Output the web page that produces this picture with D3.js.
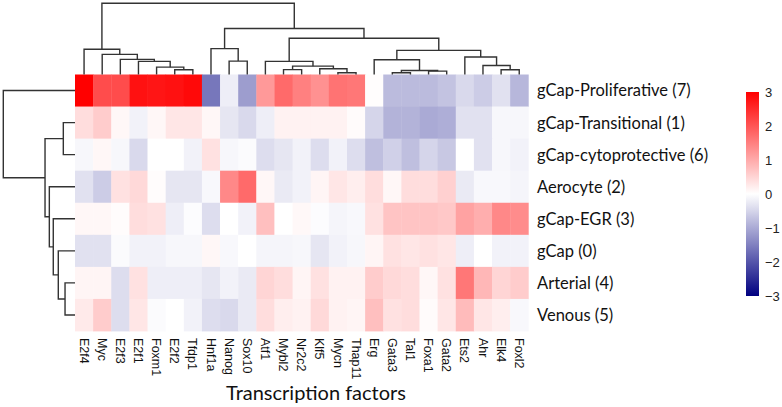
<!DOCTYPE html>
<html>
<head>
<meta charset="utf-8">
<script src="https://cdn.jsdelivr.net/npm/d3@7"></script>
<style>
  body { margin: 0; background: #fff; }
  svg { display: block; }
</style>
</head>
<body>
<div id="chart"></div>
<script>
const width = 782;
const height = 407;

// column and row order (leaf order of the dendrograms)
const factors = ["E2f4", "Myc", "E2f3", "E2f1", "Foxm1", "E2f2", "Tfdp1", "Hnf1a", "Nanog", "Sox10",
	"Atf1", "Mybl2", "Nr2c2", "Klf5", "Mycn", "Thap11", "Erg", "Gata3", "Tal1", "Foxa1",
	"Gata2", "Ets2", "Ahr", "Elk4", "Foxl2"];
const clusters = ["gCap-Proliferative (7)", "gCap-Transitional (1)", "gCap-cytoprotective (6)",
	"Aerocyte (2)", "gCap-EGR (3)", "gCap (0)", "Arterial (4)", "Venous (5)"];

// scaled activity, one array per cluster (same order as factors)
const values = [
	[3.0, 2.1, 2.1, 2.8, 2.75, 2.8, 2.9, -1.6, -0.2, -1.15, 1.2, 1.75, 1.5, 1.3, 1.65, 1.6, 0.02, -0.8, -0.8, -0.8, -0.7, -0.45, -0.6, -0.35, -0.85],
	[0.4, 0.6, 0.1, -0.15, 0.1, 0.3, 0.3, 0.1, -0.3, -0.45, -0.2, 0.15, 0.15, 0.15, 0.15, 0.05, -0.5, -0.9, -0.9, -1.0, -0.95, -0.35, -0.35, -0.1, -0.1],
	[-0.1, 0.1, -0.1, -0.45, 0, 0, -0.15, 0.35, -0.1, -0.05, -0.4, -0.3, -0.15, -0.4, -0.15, -0.4, -0.75, -0.55, -0.75, -0.5, -0.65, 0, -0.35, -0.1, -0.15],
	[-0.35, -0.6, 0.35, 0.45, 0.03, -0.3, -0.3, -0.08, 1.4, 1.75, 0.1, -0.25, -0.15, 0.12, 0.3, 0.2, 0.4, 0.1, 0.4, 0.4, 0.55, -0.25, -0.08, -0.08, -0.12],
	[0.1, 0.1, 0.03, 0.4, 0.35, -0.2, -0.03, -0.4, 0, -0.15, 0.75, 0, 0.08, -0.03, -0.12, -0.08, 0.35, 0.7, 0.7, 0.7, 0.65, 1.1, 0.95, 1.4, 1.35],
	[-0.35, -0.35, -0.05, -0.15, -0.15, -0.1, -0.1, 0.1, -0.08, 0, -0.12, -0.12, -0.1, -0.3, -0.15, -0.1, 0.12, 0.35, 0.3, 0.35, 0.3, -0.2, 0, -0.15, -0.15],
	[0.12, 0.12, -0.4, 0.35, -0.2, -0.2, -0.2, -0.3, -0.15, -0.25, 0.5, 0.4, 0.12, 0.35, 0.15, 0.15, 0.6, 0.45, 0.4, 0.1, 0.35, 1.6, 0.85, 0.5, 0.6],
	[0.25, 0.6, -0.4, 0.3, -0.05, 0, -0.15, -0.4, -0.45, -0.25, 0.4, 0.2, 0.15, 0.45, 0.15, 0.12, 0.75, 0.35, 0.4, 0.05, 0.3, 0.8, 0.3, 0.2, -0.08]
];

// dendrograms as nested [left, right, mergeHeight]
const colTree = [
	["E2f4", ["Myc", ["E2f3", ["E2f1", ["Foxm1", ["E2f2", "Tfdp1", 0.66], 1.03], 1.84], 2.12], 2.83], 3.54],
	[
		["Hnf1a", ["Nanog", "Sox10", 1.88], 3.63],
		[
			["Atf1", [["Mybl2", "Nr2c2", 0.68], ["Klf5", ["Mycn", "Thap11", 0.24], 0.81], 1.17], 1.84],
			[
				["Erg", [["Gata3", "Tal1", 0.24], ["Foxa1", "Gata2", 0.47], 0.57], 2.08],
				["Ets2", ["Ahr", ["Elk4", "Foxl2", 0.66], 1.27], 2.45],
				3.39
			],
			5.09
		],
		6.46
	],
	10
];
const rowTree = [
	"gCap-Proliferative (7)",
	[
		["gCap-Transitional (1)", "gCap-cytoprotective (6)", 1.63],
		["Aerocyte (2)", ["gCap-EGR (3)", ["gCap (0)", ["Arterial (4)", "Venous (5)", 1.39], 2.33], 3.03], 3.58],
		4.18
	],
	10
];

const colorTicks = [-3, -2, -1, 0, 1, 2, 3];

const svg = d3.select("#chart").append("svg")
	.attr("width", width)
	.attr("height", height);

const heat = { left: 75, right: 528.3, top: 74.5, bottom: 331 };

const x = d3.scaleBand().domain(factors).range([heat.left, heat.right]);
const y = d3.scaleBand().domain(clusters).range([heat.top, heat.bottom]);
const color = d3.scaleLinear().domain([-3, 0, 3]).range(["#000080", "#ffffff", "#ff0000"]).clamp(true);

// cells
const cells = [];
values.forEach((row, i) => row.forEach((v, j) => cells.push({ r: clusters[i], c: factors[j], v })));

svg.append("g")
	.selectAll("rect")
	.data(cells)
	.join("rect")
	.attr("x", d => x(d.c))
	.attr("y", d => y(d.r))
	.attr("width", x.bandwidth() + 0.4)
	.attr("height", y.bandwidth() + 0.4)
	.attr("fill", d => color(d.v));

// dendrogram helper
function layoutTree(tree, leafPos) {
	const root = d3.hierarchy(tree, d => Array.isArray(d) ? d.slice(0, 2) : null);
	root.eachAfter(n => {
		n.h = n.children ? n.data[2] : 0;
		n.pos = n.children ? d3.mean(n.children, c => c.pos) : leafPos(n.data);
	});
	return root;
}

const colRoot = layoutTree(colTree, name => x(name) + x.bandwidth() / 2);
const colH = d3.scaleLinear().domain([0, 10]).range([heat.top, 3.3]);

svg.append("g")
	.attr("fill", "none")
	.attr("stroke", "#333")
	.attr("stroke-width", 1.4)
	.selectAll("path")
	.data(colRoot.descendants().filter(n => n.children))
	.join("path")
	.attr("d", n => {
		const [a, b] = n.children;
		return `M${a.pos},${colH(a.h)}V${colH(n.h)}H${b.pos}V${colH(b.h)}`;
	});

const rowRoot = layoutTree(rowTree, name => y(name) + y.bandwidth() / 2);
const rowH = d3.scaleLinear().domain([0, 10]).range([heat.left, 3.3]);

svg.append("g")
	.attr("fill", "none")
	.attr("stroke", "#333")
	.attr("stroke-width", 1.4)
	.selectAll("path")
	.data(rowRoot.descendants().filter(n => n.children))
	.join("path")
	.attr("d", n => {
		const [a, b] = n.children;
		return `M${rowH(a.h)},${a.pos}H${rowH(n.h)}V${b.pos}H${rowH(b.h)}`;
	});

// row labels
svg.append("g")
	.selectAll("text")
	.data(clusters)
	.join("text")
	.attr("x", 537)
	.attr("y", d => y(d) + y.bandwidth() / 2)
	.attr("dy", "0.36em")
	.style("font-family", "Lato, 'Open Sans', sans-serif")
	.style("font-size", "16.5px")
	.attr("fill", "#111")
	.text(d => d);

// column labels
svg.append("g")
	.selectAll("text")
	.data(factors)
	.join("text")
	.attr("transform", d => `translate(${x(d) + x.bandwidth() / 2},338) rotate(90)`)
	.attr("dy", "0.35em")
	.style("font-family", "'Liberation Sans', Arial, sans-serif")
	.style("font-size", "12.5px")
	.attr("fill", "#111")
	.text(d => d);

// x title
svg.append("text")
	.attr("x", 316)
	.attr("y", 400)
	.attr("text-anchor", "middle")
	.style("font-family", "Lato, 'Open Sans', sans-serif")
	.style("font-size", "20px")
	.attr("fill", "#111")
	.text("Transcription factors");

// colour key
const key = { x: 746, w: 13, top: 92, bottom: 296 };
const keyY = d3.scaleLinear().domain([-3, 3]).range([key.bottom, key.top]);

const grad = svg.append("defs").append("linearGradient")
	.attr("id", "keygrad")
	.attr("x1", 0).attr("y1", 1).attr("x2", 0).attr("y2", 0);
grad.selectAll("stop")
	.data(d3.range(-3, 3.01, 0.25))
	.join("stop")
	.attr("offset", d => (d + 3) / 6)
	.attr("stop-color", d => color(d));

svg.append("rect")
	.attr("x", key.x)
	.attr("y", key.top)
	.attr("width", key.w)
	.attr("height", key.bottom - key.top)
	.attr("fill", "url(#keygrad)");

const keyAxis = svg.append("g")
	.attr("transform", `translate(${key.x + key.w},0)`)
	.call(d3.axisRight(keyY).tickValues(colorTicks).tickFormat(d3.format("d")).tickSize(0).tickPadding(6));
keyAxis.select(".domain").remove();
keyAxis.selectAll("text")
	.style("font-family", "'Liberation Sans', Arial, sans-serif")
	.style("font-size", "13px")
	.attr("fill", "#222");
</script>
</body>
</html>
